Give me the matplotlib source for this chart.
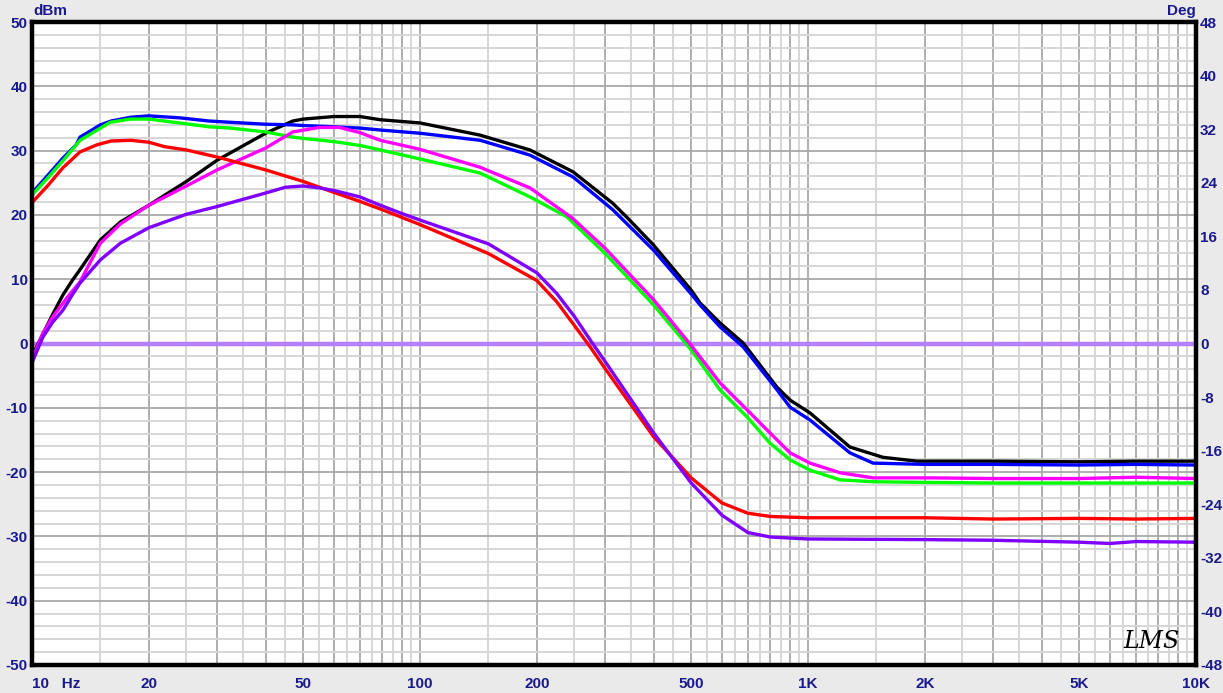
import matplotlib
matplotlib.use("Agg")
import matplotlib.pyplot as plt
from matplotlib.ticker import NullFormatter

# ---------------- data ----------------
black_f = [10, 10.67, 11.3, 12, 12.7, 13.3, 15, 16.9, 20, 25, 30, 40, 47, 50, 60, 70, 79,
           100, 143, 192, 248, 314, 343, 400, 500, 527, 593, 680, 832, 899, 1012, 1282,
           1560, 1909, 3000, 5000, 7000, 10000]
black_db = [-2.0, 1.5, 4.5, 7.5, 9.8, 11.5, 16.1, 18.9, 21.5, 25.2, 28.5, 32.7, 34.6, 34.9,
            35.3, 35.3, 34.8, 34.3, 32.4, 30.1, 26.7, 21.8, 19.5, 15.3, 8.3, 6.3, 3.2, 0.1,
            -6.8, -8.8, -10.8, -16.1, -17.7, -18.3, -18.3, -18.4, -18.3, -18.3]

blue_f = [10, 11, 12, 13, 13.3, 14, 15, 16, 18, 20, 24, 28.6, 32.5, 40, 47, 50, 60, 70, 79,
          100, 143, 192, 248, 314, 400, 500, 527, 593, 680, 832, 899, 1012, 1282, 1471,
          2000, 3000, 5000, 7000, 10000]
blue_db = [23.4, 26.2, 28.8, 30.9, 32.1, 32.9, 34.0, 34.6, 35.2, 35.4, 35.1, 34.6, 34.4,
           34.1, 34.0, 33.9, 33.7, 33.5, 33.2, 32.7, 31.6, 29.3, 25.9, 20.8, 14.5, 7.7, 6.0,
           2.6, -0.5, -7.2, -9.9, -11.9, -17.0, -18.6, -18.8, -18.8, -18.9, -18.8, -18.9]

green_f = [10, 11, 12, 13.3, 15.9, 17.9, 20, 24, 28.6, 32.5, 40, 47, 50, 60, 70, 79, 100,
           143, 192, 239, 300, 400, 500, 527, 593, 696, 798, 899, 1012, 1209, 1471, 2000,
           3000, 5000, 7000, 10000]
green_db = [23.1, 25.8, 28.4, 31.6, 34.4, 34.9, 34.9, 34.3, 33.7, 33.5, 32.9, 32.1, 31.9,
            31.4, 30.8, 30.1, 28.7, 26.5, 22.8, 19.7, 14.0, 6.0, -1.0, -2.9, -7.2, -11.4,
            -15.5, -18.1, -19.7, -21.2, -21.5, -21.6, -21.7, -21.7, -21.7, -21.7]

magenta_f = [10, 10.67, 11.3, 12.3, 13.3, 15, 16.9, 20, 25, 30, 40, 47, 55, 62, 70, 79, 100,
             143, 192, 247, 300, 400, 500, 527, 593, 696, 798, 899, 1012, 1209, 1471, 2100,
             3000, 5000, 7000, 10000]
magenta_db = [-2.5, 1.6, 4.1, 7.1, 9.6, 15.6, 18.6, 21.5, 24.5, 27.0, 30.4, 32.9, 33.6, 33.6,
              32.8, 31.6, 30.2, 27.4, 24.2, 19.5, 14.8, 6.8, -0.3, -2.1, -6.1, -10.3, -13.9,
              -17.0, -18.6, -20.1, -20.9, -20.9, -21.0, -21.0, -20.8, -21.0]

red_f = [10, 11, 12, 13.3, 14.7, 16, 18, 20, 22, 25, 30, 40, 50, 60, 70, 80, 100, 150, 200,
         225, 250, 275, 300, 400, 500, 600, 700, 800, 1000, 2000, 3000, 5000, 7000, 10000]
red_db = [21.9, 24.6, 27.3, 29.8, 30.9, 31.5, 31.6, 31.3, 30.6, 30.1, 29.0, 27.0, 25.2, 23.5,
          22.1, 20.8, 18.5, 14.0, 9.8, 6.5, 2.8, -0.6, -3.9, -14.5, -20.9, -24.8, -26.4,
          -26.9, -27.1, -27.1, -27.3, -27.2, -27.3, -27.2]

purple_f = [10, 10.67, 11.3, 12.02, 12.68, 13.3, 15, 16.9, 20, 25, 30, 40, 45, 50, 55, 60, 70,
            79, 89, 100, 150, 200, 225, 250, 280, 300, 400, 500, 600, 700, 800, 1000, 2000,
            3000, 5000, 6000, 7000, 10000]
purple_db = [-3.0, 1.0, 3.3, 5.2, 7.5, 9.4, 13.0, 15.6, 18.0, 20.1, 21.3, 23.4, 24.3, 24.5,
             24.2, 23.8, 22.8, 21.5, 20.3, 19.2, 15.5, 11.0, 7.8, 4.2, -0.2, -2.8, -13.9,
             -21.7, -26.7, -29.4, -30.1, -30.4, -30.5, -30.6, -30.9, -31.1, -30.8, -30.9]

zero_f = [10, 10000]
zero_db = [0, 0]

series = [
    (black_f, black_db, "#000000"),
    (blue_f, blue_db, "#0000FF"),
    (green_f, green_db, "#00FF00"),
    (magenta_f, magenta_db, "#FF00FF"),
    (red_f, red_db, "#FF0000"),
    (purple_f, purple_db, "#8000FF"),
]

x_major = [m * d for d in (10, 100, 1000) for m in range(1, 10)] + [10000]
x_minor = [(m + 0.5) * d for d in (10, 100, 1000) for m in range(1, 10)]
x_labels = {10: "10   Hz", 20: "20", 50: "50", 100: "100", 200: "200", 500: "500",
            1000: "1K", 2000: "2K", 5000: "5K", 10000: "10K"}
left_ticks = list(range(-50, 51, 10))
left_minor = list(range(-50, 51, 2))
right_ticks = list(range(-48, 49, 8))

# ---------------- figure ----------------
TXT = "#1A1A8C"
plt.rcParams["font.family"] = ["Liberation Sans", "DejaVu Sans"]
plt.rcParams["axes.unicode_minus"] = False
fig = plt.figure(figsize=(12.23, 6.93), dpi=100, facecolor="#EAEAEA")
W, H = 1223, 693
ax = fig.add_axes([32 / W, (H - 665) / H, 1164 / W, 643 / H])
ax.set_facecolor("white")
ax.set_xscale("log")
ax.set_xlim(10, 10000)
ax.set_ylim(-50, 50)

ax.set_xticks(x_major)
ax.set_xticklabels([x_labels.get(v, "") for v in x_major])
ax.set_xticks(x_minor, minor=True)
ax.xaxis.set_minor_formatter(NullFormatter())
ax.set_yticks(left_ticks)
ax.set_yticks(left_minor, minor=True)

ax.grid(True, which="major", color="#A8A8A8", linewidth=1.3, zorder=0)
ax.grid(True, which="minor", color="#D6D6D6", linewidth=1.4, zorder=0)
ax.set_axisbelow(True)

ax.tick_params(axis="both", which="both", length=0)
ax.tick_params(axis="x", which="major", pad=9, labelsize=11, labelcolor=TXT)
ax.tick_params(axis="y", which="major", pad=3, labelsize=11, labelcolor=TXT)
for lab in ax.get_xticklabels() + ax.get_yticklabels():
    lab.set_fontweight("bold")
for lab, v in zip(ax.get_xticklabels(), x_major):
    if v == 10:
        lab.set_horizontalalignment("left")

ax.plot(zero_f, zero_db, color="#B57FFF", linewidth=3.2, zorder=2, solid_capstyle="butt")
for f, d, c in series:
    ax.plot(f, d, color=c, linewidth=2.4, zorder=3, solid_joinstyle="round")

for sp in ax.spines.values():
    sp.set_linewidth(3.2)
    sp.set_color("black")
    sp.set_zorder(5)

ax2 = ax.twinx()
ax2.set_ylim(-48, 48)
ax2.set_yticks(right_ticks)
ax2.tick_params(axis="y", length=0, pad=3, labelsize=11, labelcolor=TXT)
for lab in ax2.get_yticklabels():
    lab.set_fontweight("bold")
for sp in ax2.spines.values():
    sp.set_visible(False)

ax.annotate("dBm", xy=(0, 1), xycoords="axes fraction", xytext=(1, 3),
            textcoords="offset points", ha="left", va="bottom",
            fontsize=11, fontweight="bold", color=TXT)
ax.annotate("Deg", xy=(1, 1), xycoords="axes fraction", xytext=(0, 3),
            textcoords="offset points", ha="right", va="bottom",
            fontsize=11, fontweight="bold", color=TXT)

ax.text(0.962, 0.036, "LMS", transform=ax.transAxes, ha="center", va="center",
        fontsize=17, fontstyle="italic", family="DejaVu Serif", color="black", zorder=6)

fig.savefig("out.png", dpi=100, facecolor=fig.get_facecolor())
